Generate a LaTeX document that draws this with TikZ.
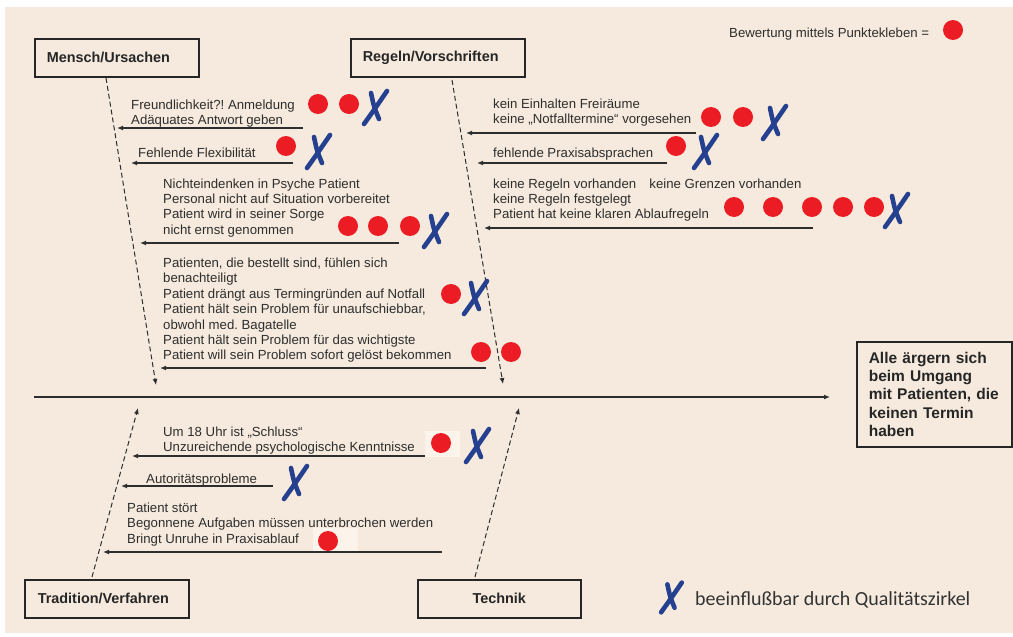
\documentclass[tikz,border=0pt]{standalone}
\usepackage{fontspec}
\setmainfont{Liberation Sans}
\newfontfamily\legfont{Carlito}
\usetikzlibrary{arrows.meta}
\definecolor{bg}{HTML}{F5EADD}
\definecolor{qred}{HTML}{EC1C24}
\definecolor{qblue}{HTML}{24408E}
\definecolor{ink}{HTML}{2E2E2E}
\definecolor{pale}{HTML}{FCF3EA}
\frenchspacing
\begin{document}
\frenchspacing
\begin{tikzpicture}[x=1pt,y=-1pt,
  txt/.style={font=\fontsize{13.2}{15.4}\selectfont\frenchspacing, text=ink, inner sep=0pt, align=left, anchor=base west},
  catbox/.style={draw=black!85, line width=1.6pt, minimum height=38pt, inner ysep=0pt,
    font=\bfseries\fontsize{14.4}{17}\selectfont, text=black!85},
  resbox/.style={draw=black!85, line width=1.6pt, minimum height=105pt, inner xsep=12pt, inner ysep=0pt,
    text width=131pt, align=left, font=\bfseries\fontsize{15.5}{18.2}\selectfont, text=black!85},
  dot/.style={circle, fill=qred, minimum size=20pt, inner sep=0pt},
  cause/.style={draw=ink, line width=1.3pt, -{Latex[length=6pt,width=5pt]}},
  bone/.style={draw=ink, line width=1pt, dash pattern=on 5pt off 3pt, -{Latex[length=6pt,width=5pt]}},
  qx/.pic={
    \draw[qblue, line width=4.6pt, line cap=round] (-11,17) .. controls (-1,3) .. (12,-16);
    \draw[qblue, line width=4.6pt, line cap=round] (-4,-14) .. controls (-1,0) .. (4,12);
  }]
\useasboundingbox (0,0) rectangle (1013,637);
\fill[white] (0,0) rectangle (1013,637);
\fill[bg] (5,7) rectangle (1013,633);

% category boxes
\node[catbox, text width=140pt, inner xsep=12pt, anchor=north west] (mensch) at (34,38) {Mensch/Ursachen};
\node[catbox, text width=150pt, inner xsep=12pt, anchor=north west] (regeln) at (350,38) {Regeln/Vorschriften};
\node[catbox, text width=138pt, inner xsep=13pt, anchor=north west] (trad) at (24,579) {Tradition/Verfahren};
\node[catbox, minimum width=163pt, anchor=north west] (technik) at (417,579) {Technik};
\node[resbox, anchor=north west] (result) at (856,341) {Alle ärgern sich\\beim Umgang\\mit Patienten, die\\keinen Termin\\haben};

% spine
\coordinate (sp1) at (34,397);
\coordinate (sp2) at (830,397);
\draw[draw=ink, line width=1.3pt, -{Latex[length=6pt,width=5pt]}] (sp1) -- (sp2);

% bones
\coordinate (mb1) at (106,78);  \coordinate (mb2) at (156,385);
\coordinate (rb1) at (452,80);  \coordinate (rb2) at (503,384);
\coordinate (tb1) at (92,577);  \coordinate (tb2) at (138,408);
\coordinate (kb1) at (475,577); \coordinate (kb2) at (519,408);
\draw[bone] (mb1) -- (mb2);
\draw[bone] (rb1) -- (rb2);
\draw[bone] (tb1) -- (tb2);
\draw[bone] (kb1) -- (kb2);

% legend top
\node[txt] (bewtxt) at (729,37.5) {Bewertung mittels Punktekleben =};
\node[dot] (bewdot) at (953,30) {};

% Mensch causes
\coordinate (m1a) at (303,128); \coordinate (m1b) at (117,128);
\draw[cause] (m1a) -- (m1b);
\node[txt] (m1t) at (131,124.4) {Freundlichkeit?! Anmeldung\\Adäquates Antwort geben};
\node[dot] (m1d1) at (318,104) {};
\node[dot] (m1d2) at (349,104) {};
\pic at (375,107) {qx};

\coordinate (m2a) at (293,163); \coordinate (m2b) at (131,163);
\draw[cause] (m2a) -- (m2b);
\node[txt] (m2t) at (138,157) {Fehlende Flexibilität};
\node[dot] (m2d1) at (286,146) {};
\pic at (318,151) {qx};

\coordinate (m3a) at (399,243); \coordinate (m3b) at (140,243);
\draw[cause] (m3a) -- (m3b);
\node[txt] (m3t) at (163,234.2) {Nichteindenken in Psyche Patient\\Personal nicht auf Situation vorbereitet\\Patient wird in seiner Sorge\\nicht ernst genommen};
\node[dot] (m3d1) at (348,226) {};
\node[dot] (m3d2) at (378,226) {};
\node[dot] (m3d3) at (410,226) {};
\pic at (435,230) {qx};

\coordinate (m4a) at (486,368); \coordinate (m4b) at (160,368);
\draw[cause] (m4a) -- (m4b);
\node[txt] (m4t) at (163,359.9) {Patienten, die bestellt sind, fühlen sich\\benachteiligt\\Patient drängt aus Termingründen auf Notfall\\Patient hält sein Problem für unaufschiebbar,\\obwohl med. Bagatelle\\Patient hält sein Problem für das wichtigste\\Patient will sein Problem sofort gelöst bekommen};
\node[dot] (m4d1) at (451,294) {};
\pic at (475,297) {qx};
\node[dot] (m4d2) at (481,352) {};
\node[dot] (m4d3) at (511,352) {};

% Regeln causes
\coordinate (r1a) at (696,133); \coordinate (r1b) at (466,133);
\draw[cause] (r1a) -- (r1b);
\node[txt] (r1t) at (493,123.9) {kein Einhalten Freiräume\\keine „Notfalltermine“ vorgesehen};
\node[dot] (r1d1) at (711,117) {};
\node[dot] (r1d2) at (743,117) {};
\pic at (774,122) {qx};

\coordinate (r2a) at (667,163); \coordinate (r2b) at (477,163);
\draw[cause] (r2a) -- (r2b);
\node[txt] (r2t) at (493,157) {fehlende Praxisabsprachen};
\node[dot] (r2d1) at (676,146) {};
\pic at (705,151) {qx};

\coordinate (r3a) at (813,228); \coordinate (r3b) at (484,228);
\draw[cause] (r3a) -- (r3b);
\node[txt] (r3t) at (493,218.8) {keine Regeln vorhanden\quad keine Grenzen vorhanden\\keine Regeln festgelegt\\Patient hat keine klaren Ablaufregeln};
\node[dot] (r3d1) at (734,207) {};
\node[dot] (r3d2) at (773,207) {};
\node[dot] (r3d3) at (812,207) {};
\node[dot] (r3d4) at (843,207) {};
\node[dot] (r3d5) at (874,207) {};
\pic at (896,210) {qx};

% Tradition causes
\coordinate (t1a) at (425,456); \coordinate (t1b) at (132,456);
\draw[cause] (t1a) -- (t1b);
\node[txt] (t1t) at (163,451.9) {Um 18 Uhr ist „Schluss“\\Unzureichende psychologische Kenntnisse};
\fill[pale] (425,431) rectangle (460,457);
\node[dot] (t1d1) at (441,443) {};
\pic at (477,445) {qx};

\coordinate (t2a) at (273,486); \coordinate (t2b) at (121,486);
\draw[cause] (t2a) -- (t2b);
\node[txt] (t2t) at (146,483.5) {Autoritätsprobleme};
\pic at (295,482) {qx};

\coordinate (t3a) at (442,552); \coordinate (t3b) at (103,552);
\draw[cause] (t3a) -- (t3b);
\node[txt] (t3t) at (127,543.3) {Patient stört\\Begonnene Aufgaben müssen unterbrochen werden\\Bringt Unruhe in Praxisablauf};
\fill[pale] (313,528) rectangle (358,551);
\node[dot] (t3d1) at (328,541) {};

% legend bottom
\pic[scale=0.9] at (671,597) {qx};
\node[inner sep=0pt, anchor=base west, font=\legfont\fontsize{20}{24}\selectfont, text=black!80] (legtxt) at (695,605) {beeinflußbar durch Qualitätszirkel};
\end{tikzpicture}
\end{document}
